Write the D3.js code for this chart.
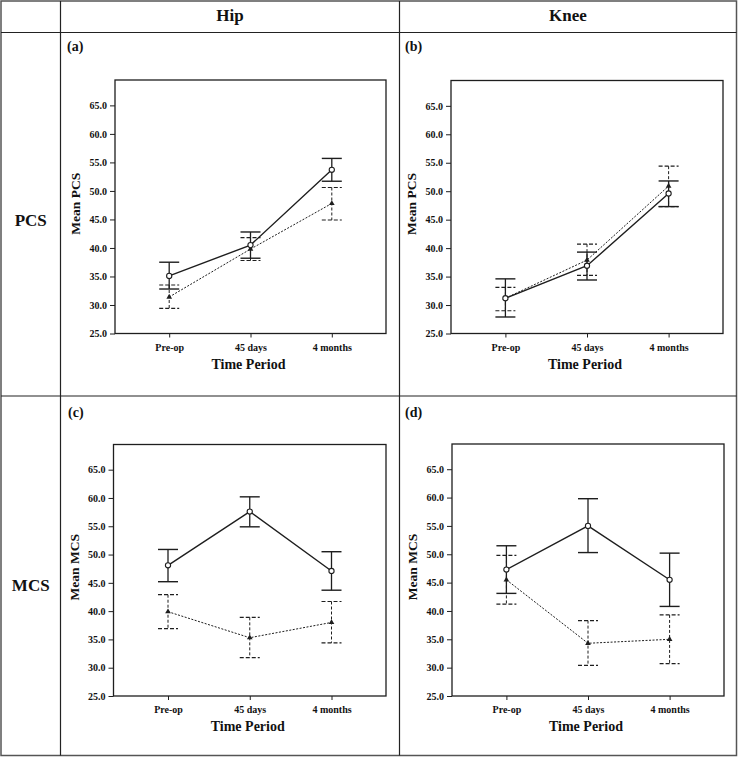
<!DOCTYPE html>
<html>
<head>
<meta charset="utf-8">
<script src="https://cdn.jsdelivr.net/npm/d3@7"></script>
<style>
  html, body { margin: 0; padding: 0; background: #fff; }
  svg { display: block; font-family: "Liberation Serif", "Times New Roman", serif; }
</style>
</head>
<body>
<svg id="chart" width="738" height="757"></svg>
<script>
// ---------------- data ----------------
const periods = ["Pre-op", "45 days", "4 months"];
const yTicks = [25, 30, 35, 40, 45, 50, 55, 60, 65];
const columnHeaders = ["Hip", "Knee"];
const rowHeaders = ["PCS", "MCS"];
const panelLabels = ["(a)", "(b)", "(c)", "(d)"];
const yTitles = ["Mean PCS", "Mean PCS", "Mean MCS", "Mean MCS"];
const xTitle = "Time Period";

// (a) Hip PCS
const aSolidMean = [35.1, 40.5, 53.7];
const aSolidLow  = [32.8, 38.2, 51.7];
const aSolidHigh = [37.5, 42.8, 55.7];
const aDashMean  = [31.4, 39.8, 47.8];
const aDashLow   = [29.4, 37.8, 44.9];
const aDashHigh  = [33.5, 41.8, 50.6];
// (b) Knee PCS
const bSolidMean = [31.2, 36.9, 49.6];
const bSolidLow  = [27.9, 34.4, 47.3];
const bSolidHigh = [34.6, 39.3, 51.8];
const bDashMean  = [31.2, 37.9, 50.9];
const bDashLow   = [29.0, 35.2, 47.3];
const bDashHigh  = [33.1, 40.7, 54.4];
// (c) Hip MCS
const cSolidMean = [48.1, 57.6, 47.1];
const cSolidLow  = [45.2, 54.9, 43.7];
const cSolidHigh = [50.9, 60.2, 50.5];
const cDashMean  = [39.9, 35.3, 38.0];
const cDashLow   = [36.9, 31.8, 34.4];
const cDashHigh  = [42.9, 38.9, 41.7];
// (d) Knee MCS
const dSolidMean = [47.3, 55.0, 45.5];
const dSolidLow  = [43.1, 50.3, 40.8];
const dSolidHigh = [51.5, 59.8, 50.2];
const dDashMean  = [45.5, 34.3, 35.0];
const dDashLow   = [41.2, 30.4, 30.7];
const dDashHigh  = [49.8, 38.3, 39.3];

const panelData = [
  { solid: [aSolidMean, aSolidLow, aSolidHigh], dash: [aDashMean, aDashLow, aDashHigh] },
  { solid: [bSolidMean, bSolidLow, bSolidHigh], dash: [bDashMean, bDashLow, bDashHigh] },
  { solid: [cSolidMean, cSolidLow, cSolidHigh], dash: [cDashMean, cDashLow, cDashHigh] },
  { solid: [dSolidMean, dSolidLow, dSolidHigh], dash: [dDashMean, dDashLow, dDashHigh] }
];

// ---------------- layout ----------------
const svg = d3.select("#chart");
const ink = "#1e1e1e";

// table grid
const T = { left: 1, top: 1, right: 736.5, bottom: 755.5, col1: 60.5, col2: 399.5, row1: 32.5, row2: 396 };
svg.append("rect").attr("x", T.left).attr("y", T.top)
  .attr("width", T.right - T.left).attr("height", T.bottom - T.top)
  .attr("fill", "none").attr("stroke", "#555").attr("stroke-width", 1.5);
[[T.col1, T.top, T.col1, T.bottom], [T.col2, T.top, T.col2, T.bottom],
 [T.left, T.row1, T.right, T.row1], [T.left, T.row2, T.right, T.row2]].forEach(l => {
  svg.append("line").attr("x1", l[0]).attr("y1", l[1]).attr("x2", l[2]).attr("y2", l[3])
    .attr("stroke", "#222").attr("stroke-width", 1.2);
});

svg.selectAll("text.colhead").data(columnHeaders).enter().append("text")
  .attr("class", "colhead")
  .attr("x", (d, i) => i === 0 ? (T.col1 + T.col2) / 2 : (T.col2 + T.right) / 2)
  .attr("y", 21).attr("text-anchor", "middle")
  .attr("font-size", 17).attr("font-weight", "bold").attr("fill", "#111").text(d => d);

svg.selectAll("text.rowhead").data(rowHeaders).enter().append("text")
  .attr("class", "rowhead")
  .attr("x", (T.left + T.col1) / 2)
  .attr("y", (d, i) => i === 0 ? 226 : 591).attr("text-anchor", "middle")
  .attr("font-size", 17).attr("font-weight", "bold").attr("fill", "#111").text(d => d);

// panel frames
const frames = [
  { x0: 115, x1: 386, y0: 80, y1: 333.5, labX: 67, labY: 51 },
  { x0: 451, x1: 723, y0: 80.5, y1: 333.5, labX: 405, labY: 51 },
  { x0: 113.5, x1: 386, y0: 444.5, y1: 696, labX: 68, labY: 417 },
  { x0: 452, x1: 724, y0: 444, y1: 696, labX: 405, labY: 417 }
];

frames.forEach((f, pi) => {
  const g = svg.append("g");
  const x = d3.scalePoint().domain(periods).range([f.x0, f.x1]).padding(2 / 3);
  const y = d3.scaleLinear().domain([25, 69.45]).range([f.y1, f.y0]);

  // panel label
  svg.append("text").attr("x", f.labX).attr("y", f.labY)
    .attr("font-size", 14).attr("font-weight", "bold").attr("fill", "#111").text(panelLabels[pi]);

  // frame
  g.append("rect").attr("x", f.x0).attr("y", f.y0)
    .attr("width", f.x1 - f.x0).attr("height", f.y1 - f.y0)
    .attr("fill", "none").attr("stroke", ink).attr("stroke-width", 1.3);

  // axes
  const ya = g.append("g").attr("transform", `translate(${f.x0},0)`)
    .call(d3.axisLeft(y).tickValues(yTicks).tickFormat(d3.format(".1f")).tickSize(5).tickPadding(3));
  ya.select(".domain").remove();
  ya.selectAll("line").attr("stroke", ink);
  ya.selectAll("text").attr("font-family", "Liberation Serif").attr("font-size", 10)
    .attr("font-weight", "bold").attr("fill", "#111");

  const xa = g.append("g").attr("transform", `translate(0,${f.y1})`)
    .call(d3.axisBottom(x).tickSize(4).tickPadding(6));
  xa.select(".domain").remove();
  xa.selectAll("line").attr("stroke", ink);
  xa.selectAll("text").attr("font-family", "Liberation Serif").attr("font-size", 10)
    .attr("font-weight", "bold").attr("fill", "#111");

  // titles
  g.append("text").attr("x", (f.x0 + f.x1) / 2 - 2).attr("y", f.y1 + 35)
    .attr("text-anchor", "middle").attr("font-size", 14).attr("font-weight", "bold")
    .attr("fill", "#111").text(xTitle);
  g.append("text")
    .attr("transform", `translate(${f.x0 - 35},${(f.y0 + f.y1) / 2 - 3}) rotate(-90)`)
    .attr("text-anchor", "middle").attr("font-size", 13.5).attr("font-weight", "bold")
    .attr("fill", "#111").text(yTitles[pi]);

  const capW = 10;
  const series = [
    { vals: panelData[pi].dash, dashed: true },
    { vals: panelData[pi].solid, dashed: false }
  ];
  series.forEach(s => {
    const [mean, low, high] = s.vals;
    const pts = periods.map((p, i) => ({ p, m: mean[i], lo: low[i], hi: high[i] }));
    // error bars
    pts.forEach(d => {
      const cx = x(d.p);
      g.append("line").attr("x1", cx).attr("x2", cx).attr("y1", y(d.hi)).attr("y2", y(d.lo))
        .attr("stroke", ink).attr("stroke-width", s.dashed ? 1 : 1.3)
        .attr("stroke-dasharray", s.dashed ? "3,2" : null);
      [d.hi, d.lo].forEach(v => {
        g.append("line").attr("x1", cx - capW).attr("x2", cx + capW)
          .attr("y1", y(v)).attr("y2", y(v))
          .attr("stroke", ink).attr("stroke-width", s.dashed ? 1.2 : 1.4)
          .attr("stroke-dasharray", s.dashed ? "4,2" : null);
      });
    });
    // mean line
    g.append("path").datum(pts)
      .attr("d", d3.line().x(d => x(d.p)).y(d => y(d.m)))
      .attr("fill", "none").attr("stroke", ink)
      .attr("stroke-width", s.dashed ? 1 : 1.4)
      .attr("stroke-dasharray", s.dashed ? "2,1.5" : null);
    // markers
    if (s.dashed) {
      g.selectAll(null).data(pts).enter().append("path")
        .attr("d", d3.symbol().type(d3.symbolTriangle).size(14))
        .attr("transform", d => `translate(${x(d.p)},${y(d.m)})`)
        .attr("fill", ink);
    } else {
      g.selectAll(null).data(pts).enter().append("circle")
        .attr("cx", d => x(d.p)).attr("cy", d => y(d.m)).attr("r", 2.6)
        .attr("fill", "#fff").attr("stroke", ink).attr("stroke-width", 1.1);
    }
  });
});
</script>
</body>
</html>
